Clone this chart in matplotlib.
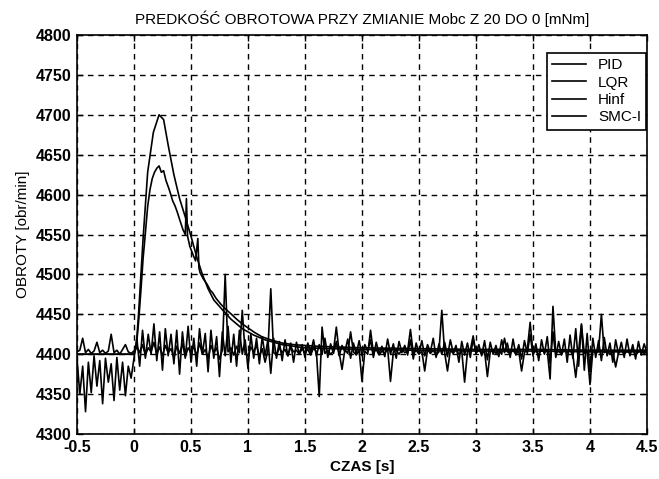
import matplotlib
matplotlib.use("Agg")
import matplotlib.pyplot as plt
import numpy as np

# PID response: smooth overshoot after the load step at t = 0
t_pid = [-0.5, 0.0, 0.02, 0.04, 0.08, 0.12, 0.17, 0.22, 0.26, 0.30, 0.35, 0.40,
         0.45, 0.50, 0.55, 0.60, 0.65, 0.70, 0.78, 0.85, 0.95, 1.05, 1.15, 1.30,
         1.50, 2.00, 2.50, 3.00, 3.50, 4.00, 4.50]
v_pid = [4400, 4400, 4410, 4450, 4545, 4628, 4678, 4700, 4694, 4662, 4625, 4595,
         4572, 4548, 4522, 4500, 4482, 4468, 4455, 4444, 4432, 4424, 4418, 4412,
         4408, 4406, 4405, 4404, 4404, 4403, 4403]

# LQR response: lower overshoot, slightly ragged
t_lqr = [-0.5, 0.0, 0.02, 0.04, 0.06, 0.08, 0.10, 0.12, 0.14, 0.16, 0.18, 0.20,
         0.22, 0.24, 0.26, 0.28, 0.31, 0.34, 0.36, 0.38, 0.40, 0.43, 0.45, 0.46,
         0.47, 0.49, 0.52, 0.54, 0.56, 0.57, 0.58, 0.61, 0.64, 0.67, 0.69, 0.72,
         0.76, 0.80, 0.84, 0.90, 0.95, 1.00, 1.05, 1.12, 1.20, 1.30, 1.40, 1.60,
         2.00, 2.50, 3.00, 3.50, 4.00, 4.50]
v_lqr = [4400, 4400, 4408, 4440, 4478, 4520, 4552, 4585, 4606, 4620, 4628, 4633,
         4636, 4628, 4630, 4618, 4606, 4592, 4586, 4578, 4569, 4556, 4550, 4595,
         4548, 4535, 4524, 4517, 4545, 4508, 4502, 4494, 4488, 4480, 4477, 4470,
         4463, 4457, 4452, 4444, 4438, 4433, 4428, 4422, 4418, 4414, 4412, 4410,
         4408, 4407, 4406, 4406, 4405, 4405]

# Hinf and SMC-I are sampled every 0.025 s from -0.5 s to 4.5 s
t_samp = np.linspace(-0.5, 4.5, 201)

v_hinf = [
    4395, 4350, 4385, 4328, 4390, 4352, 4398, 4360, 4392, 4338,
    4395, 4365, 4388, 4342, 4396, 4355, 4390, 4348, 4385, 4370,
    4395, 4420, 4385, 4430, 4395, 4425, 4400, 4438, 4392, 4428,
    4380, 4432, 4398, 4425, 4388, 4430, 4375, 4428, 4395, 4435,
    4390, 4420, 4385, 4432, 4400, 4426, 4378, 4430, 4395, 4422,
    4372, 4428, 4398, 4435, 4390, 4425, 4385, 4430, 4400, 4418,
    4382, 4425, 4395, 4420, 4388, 4422, 4398, 4418, 4376, 4420,
    4395, 4416, 4392, 4418, 4398, 4414, 4390, 4415, 4400, 4412,
    4396, 4414, 4402, 4418, 4398, 4412, 4400, 4420, 4396, 4413,
    4401, 4416, 4398, 4411, 4403, 4419, 4395, 4414, 4400, 4417,
    4398, 4412, 4404, 4418, 4396, 4415, 4401, 4410, 4397, 4419,
    4400, 4413, 4395, 4416, 4402, 4411, 4399, 4418, 4394, 4414,
    4401, 4417, 4398, 4412, 4403, 4420, 4396, 4413, 4400, 4415,
    4397, 4418, 4402, 4411, 4390, 4416, 4399, 4414, 4396, 4419,
    4401, 4412, 4398, 4417, 4393, 4415, 4400, 4411, 4397, 4418,
    4402, 4414, 4396, 4419, 4399, 4412, 4394, 4417, 4401, 4425,
    4398, 4413, 4392, 4418, 4400, 4422, 4388, 4428, 4396, 4416,
    4399, 4419, 4390, 4424, 4395, 4432, 4385, 4438, 4380, 4426,
    4378, 4420, 4396, 4417, 4392, 4421, 4398, 4414, 4390, 4418,
    4400, 4415, 4396, 4419, 4398, 4412, 4394, 4416, 4399, 4413,
    4402,
]

v_smc = [
    4403, 4405, 4420, 4402, 4406, 4401, 4404, 4415, 4402, 4405,
    4401, 4404, 4425, 4402, 4405, 4400, 4406, 4412, 4403, 4401,
    4404, 4410, 4402, 4412, 4399, 4408, 4403, 4415, 4400, 4409,
    4398, 4411, 4402, 4407, 4396, 4410, 4401, 4413, 4397, 4408,
    4402, 4410, 4398, 4414, 4400, 4406, 4395, 4411, 4402, 4408,
    4394, 4405, 4500, 4403, 4408, 4399, 4410, 4402, 4455, 4401,
    4398, 4409, 4403, 4411, 4397, 4407, 4390, 4405, 4482, 4402,
    4399, 4408, 4402, 4406, 4398, 4409, 4403, 4405, 4400, 4407,
    4402, 4406, 4399, 4408, 4403, 4347, 4434, 4401, 4405, 4400,
    4404, 4434, 4402, 4381, 4406, 4401, 4428, 4403, 4399, 4405,
    4366, 4404, 4400, 4430, 4402, 4406, 4399, 4404, 4401, 4407,
    4366, 4403, 4405, 4400, 4406, 4402, 4404, 4431, 4401, 4405,
    4400, 4404, 4379, 4406, 4401, 4405, 4399, 4403, 4455, 4402,
    4379, 4405, 4401, 4406, 4400, 4404, 4365, 4403, 4405, 4423,
    4401, 4406, 4400, 4404, 4372, 4403, 4405, 4401, 4406, 4400,
    4420, 4403, 4401, 4405, 4400, 4404, 4379, 4402, 4406, 4440,
    4401, 4404, 4400, 4406, 4402, 4405, 4369, 4460, 4401, 4404,
    4400, 4406, 4402, 4405, 4399, 4371, 4404, 4437, 4401, 4403,
    4362, 4405, 4401, 4404, 4450, 4402, 4405, 4400, 4404, 4384,
    4402, 4405, 4400, 4404, 4401, 4406, 4399, 4403, 4405, 4401,
    4403,
]

x_ticks = [-0.5, 0, 0.5, 1, 1.5, 2, 2.5, 3, 3.5, 4, 4.5]
x_tick_labels = ["-0.5", "0", "0.5", "1", "1.5", "2", "2.5", "3", "3.5", "4", "4.5"]
y_ticks = [4300, 4350, 4400, 4450, 4500, 4550, 4600, 4650, 4700, 4750, 4800]

plt.rcParams["font.family"] = ["Liberation Sans", "DejaVu Sans"]

fig = plt.figure(figsize=(6.59, 4.79), dpi=100)
ax = fig.add_axes([0.1168, 0.0939, 0.865, 0.833])

lw = 1.2
ax.plot(t_pid, v_pid, color="black", lw=lw, label="PID")
ax.plot(t_lqr, v_lqr, color="black", lw=lw, label="LQR")
ax.plot(t_samp, v_hinf, color="black", lw=lw, label="Hinf")
ax.plot(t_samp, v_smc, color="black", lw=lw, label="SMC-I")

ax.set_xlim(-0.5, 4.5)
ax.set_ylim(4300, 4800)
ax.set_xticks(x_ticks)
ax.set_xticklabels(x_tick_labels)
ax.set_yticks(y_ticks)

ax.grid(True, color="black", linestyle=(0, (4, 3.5)), linewidth=1.0)
ax.tick_params(direction="in", length=4, width=1.0, top=True, right=True,
               labelsize=11.5, pad=4)
for lab in ax.get_xticklabels() + ax.get_yticklabels():
    lab.set_fontweight("bold")
for sp in ax.spines.values():
    sp.set_linewidth(1.2)
    sp.set_color("black")

ax.set_title("PREDKOŚĆ OBROTOWA PRZY ZMIANIE Mobc Z 20 DO 0 [mNm]",
             fontsize=11, pad=8)
ax.set_xlabel("CZAS [s]", fontsize=11, fontweight="bold", labelpad=4)
ax.set_ylabel("OBROTY [obr/min]", fontsize=11, labelpad=4)

leg = ax.legend(loc="upper right", bbox_to_anchor=(0.999, 0.955),
                borderaxespad=0, fancybox=False, framealpha=1,
                edgecolor="black", fontsize=11, handlelength=2.2,
                labelspacing=0.22, handletextpad=0.8, borderpad=0.35)
leg.get_frame().set_linewidth(1.2)

fig.savefig("out.png", dpi=100)
